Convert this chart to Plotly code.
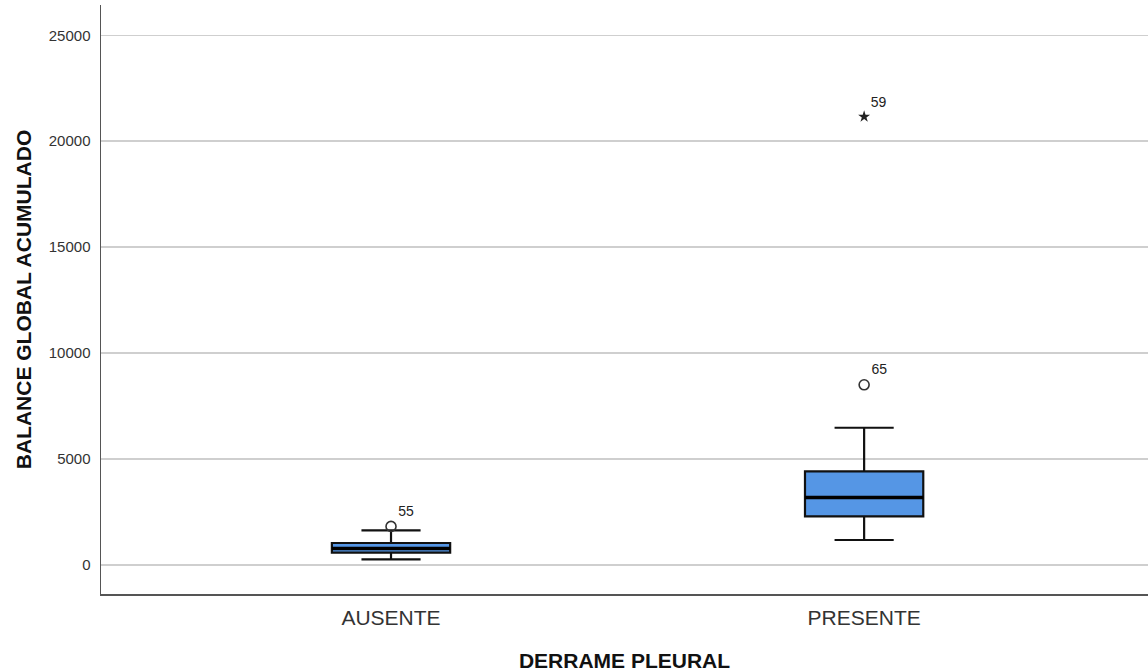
import plotly.graph_objects as go

categories = ["AUSENTE", "PRESENTE"]
q1 = [580, 2293]
median = [783, 3189]
q3 = [1038, 4415]
lower_whisker = [264, 1179]
upper_whisker = [1632, 6477]

outlier_group = ["AUSENTE", "PRESENTE"]
outlier_values = [1821, 8505]
outlier_labels = ["55", "65"]

extreme_group = ["PRESENTE"]
extreme_values = [21160]
extreme_labels = ["59"]

y_ticks = [0, 5000, 10000, 15000, 20000, 25000]

pos = {c: i for i, c in enumerate(categories)}
box_w = 0.25

fig = go.Figure()
for i, c in enumerate(categories):
    fig.add_trace(go.Box(
        x=[pos[c]], q1=[q1[i]], median=[median[i]], q3=[q3[i]],
        lowerfence=[lower_whisker[i]], upperfence=[upper_whisker[i]],
        width=box_w, whiskerwidth=0.5,
        fillcolor="#5596e5", line=dict(color="#111111", width=2.2),
        boxpoints=False, hoverinfo="skip", showlegend=False,
    ))
    fig.add_trace(go.Scatter(
        x=[pos[c] - box_w / 2, pos[c] + box_w / 2], y=[median[i], median[i]],
        mode="lines", line=dict(color="#000000", width=3.5),
        hoverinfo="skip", showlegend=False,
    ))

fig.add_trace(go.Scatter(
    x=[pos[g] for g in outlier_group], y=outlier_values, mode="markers+text",
    marker=dict(symbol="circle-open", size=10, color="#333333", line=dict(width=1.6)),
    text=outlier_labels, textposition="top right",
    textfont=dict(family="Liberation Sans, Arial", size=14, color="#222222"),
    hoverinfo="skip", showlegend=False,
))
fig.add_trace(go.Scatter(
    x=[pos[g] for g in extreme_group], y=extreme_values, mode="markers+text",
    marker=dict(symbol="star", size=9, color="#222222"),
    text=extreme_labels, textposition="top right",
    textfont=dict(family="Liberation Sans, Arial", size=14, color="#222222"),
    hoverinfo="skip", showlegend=False,
))

fig.update_layout(
    width=1148, height=672,
    margin=dict(l=101, r=0, t=5, b=78),
    paper_bgcolor="white", plot_bgcolor="white",
    font=dict(family="Liberation Sans, Arial", color="#222222"),
    xaxis=dict(
        range=[-0.613, 1.60], tickvals=[pos[c] for c in categories], ticktext=categories,
        showgrid=False, zeroline=False, showline=True, linecolor="#555555", linewidth=1.5,
        ticks="", tickfont=dict(size=21, color="#333333"), ticklabelstandoff=4,
        title=dict(text="<b>DERRAME PLEURAL</b>", font=dict(size=21, color="#111111"), standoff=26),
    ),
    yaxis=dict(
        range=[-1370, 26430], tickvals=y_ticks, ticktext=[str(v) for v in y_ticks],
        showgrid=True, gridcolor="#cfcfcf", gridwidth=1.5, zeroline=False,
        showline=True, linecolor="#555555", linewidth=1.5,
        ticks="", tickfont=dict(size=15, color="#333333"), ticklabelstandoff=6,
        title=dict(text="<b>BALANCE GLOBAL ACUMULADO</b>", font=dict(size=21, color="#111111"), standoff=11),
    ),
)

fig.write_html(
    "out.html",
    config={"displayModeBar": False, "staticPlot": True},
    post_script="document.body.style.margin='0';document.body.style.overflow='hidden';",
)
